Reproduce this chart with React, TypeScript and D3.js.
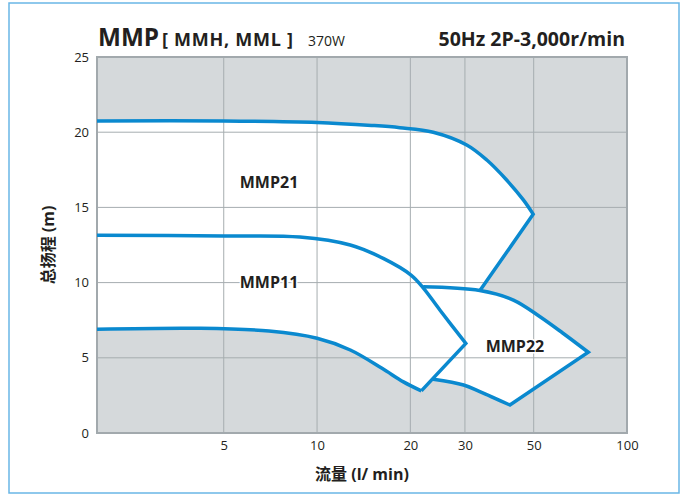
import React, { useEffect, useRef } from 'react';
import * as d3 from 'd3';

// axis ticks
const xTicks = [5, 10, 20, 30, 50, 100];
const yTicks = [0, 5, 10, 15, 20, 25];
const hGrid = [5, 10, 15, 20];
const vGrid = [5, 10, 20, 30, 50];

// MMP21: head curve + right edge
const mmp21Flow = [1.95, 5, 10, 15, 18.5, 23.7, 30.4, 35.3, 40.9, 46.3, 49.8];
const mmp21Head = [20.75, 20.75, 20.65, 20.45, 20.3, 20.0, 19.15, 18.15, 16.82, 15.5, 14.55];
const mmp21EdgeFlow = [49.8, 33.5];
const mmp21EdgeHead = [14.55, 9.45];

// MMP11: upper curve, right edge, lower curve
const mmp11Flow = [1.95, 5, 8.8, 12.8, 16.35, 20.1, 22, 24.9, 30.2];
const mmp11Head = [13.15, 13.1, 13.03, 12.5, 11.61, 10.5, 9.65, 8.18, 5.95];
const mmp11EdgeFlow = [30.2, 21.7];
const mmp11EdgeHead = [5.95, 2.8];
const mmp11LowFlow = [1.95, 4.2, 7, 10, 12.8, 16.2, 19, 21.7];
const mmp11LowHead = [6.9, 6.96, 6.78, 6.3, 5.52, 4.3, 3.4, 2.8];

// MMP22
const mmp22Flow = [22, 33.5, 43, 52.4, 62, 75];
const mmp22Head = [9.72, 9.47, 8.84, 7.73, 6.65, 5.37];
const mmp22EdgeFlow = [75, 41.9];
const mmp22EdgeHead = [5.37, 1.86];
const mmp22LowFlow = [23.7, 29.7, 33.5, 41.9];
const mmp22LowHead = [3.57, 3.19, 2.75, 1.86];

const regionNames = ['MMP21', 'MMP11', 'MMP22'];
const regionAt = [[7, 16.7], [7, 10.0], [43.5, 5.8]];

type Pt = [number, number];
const pts = (q: number[], h: number[]): Pt[] => q.map((v, i) => [v, h[i]]);

const FONT = "'Open Sans', 'Noto Sans CJK SC', sans-serif";
const BLUE = '#0a89cf';

const App: React.FC = () => {
  const svgRef = useRef<SVGSVGElement>(null);

  useEffect(() => {
    if (!svgRef.current) return;
    const svg = d3.select(svgRef.current);
    svg.selectAll('*').remove();

    const x = d3.scaleLog().domain([1.95, 100]).range([97, 627]);
    const y = d3.scaleLinear().domain([0, 25]).range([433, 57]);

    const line = d3.line<Pt>()
      .x(d => x(d[0]))
      .y(d => y(d[1]))
      .curve(d3.curveCatmullRom.alpha(0.5));

    const join = (parts: Pt[][], close = false) =>
      parts.map((p, i) => {
        const s = line(p) || '';
        return i === 0 ? s : 'L' + s.slice(1);
      }).join('') + (close ? 'Z' : '');

    const rev = (p: Pt[]) => p.slice().reverse();

    const p21 = pts(mmp21Flow, mmp21Head);
    const e21 = pts(mmp21EdgeFlow, mmp21EdgeHead);
    const p11 = pts(mmp11Flow, mmp11Head);
    const e11 = pts(mmp11EdgeFlow, mmp11EdgeHead);
    const l11 = pts(mmp11LowFlow, mmp11LowHead);
    const p22 = pts(mmp22Flow, mmp22Head);
    const e22 = pts(mmp22EdgeFlow, mmp22EdgeHead);
    const l22 = pts(mmp22LowFlow, mmp22LowHead);

    // outer frame
    svg.append('rect')
      .attr('x', 9).attr('y', 3).attr('width', 670).attr('height', 490)
      .attr('fill', 'white')
      .attr('stroke', '#69b6e6')
      .attr('stroke-width', 1.5);

    // plot background
    svg.append('rect')
      .attr('x', 97).attr('y', 57).attr('width', 530).attr('height', 376)
      .attr('fill', '#d5d9db');

    // white operating regions
    const regions = [
      join([p21, e21, rev(p11)], true),
      join([p11, e11, rev(l11)], true),
      join([p22, e22, rev(l22)], true),
    ];
    svg.selectAll('path.region')
      .data(regions)
      .enter()
      .append('path')
      .attr('class', 'region')
      .attr('d', d => d)
      .attr('fill', 'white');

    // grid
    svg.selectAll('line.hgrid')
      .data(hGrid)
      .enter()
      .append('line')
      .attr('x1', 97).attr('x2', 627)
      .attr('y1', d => y(d)).attr('y2', d => y(d))
      .attr('stroke', '#a6adb0')
      .attr('stroke-width', 1);

    svg.selectAll('line.vgrid')
      .data(vGrid)
      .enter()
      .append('line')
      .attr('y1', 57).attr('y2', 433)
      .attr('x1', d => x(d)).attr('x2', d => x(d))
      .attr('stroke', '#a6adb0')
      .attr('stroke-width', 1);

    // plot border
    svg.append('rect')
      .attr('x', 97).attr('y', 57).attr('width', 530).attr('height', 376)
      .attr('fill', 'none')
      .attr('stroke', '#a2a9ad')
      .attr('stroke-width', 2);

    // curves
    const curves = [
      join([p21, e21]),
      join([p11, e11]),
      line(l11) || '',
      join([p22, e22, rev(l22)]),
    ];
    svg.selectAll('path.curve')
      .data(curves)
      .enter()
      .append('path')
      .attr('class', 'curve')
      .attr('d', d => d)
      .attr('fill', 'none')
      .attr('stroke', BLUE)
      .attr('stroke-width', 3.5)
      .attr('stroke-linejoin', 'miter');

    // region labels
    svg.selectAll('text.region')
      .data(regionNames)
      .enter()
      .append('text')
      .attr('x', (d, i) => x(regionAt[i][0]))
      .attr('y', (d, i) => y(regionAt[i][1]))
      .attr('dy', '0.36em')
      .attr('text-anchor', 'middle')
      .attr('font-family', FONT)
      .attr('font-weight', 700)
      .attr('font-size', 16)
      .attr('fill', '#231f20')
      .attr('stroke', 'white')
      .attr('stroke-width', 3)
      .attr('paint-order', 'stroke')
      .text(d => d);

    // axes
    const xAxis = svg.append('g')
      .attr('transform', 'translate(0,433)')
      .call(d3.axisBottom(x).tickValues(xTicks).tickFormat(d3.format('d')).tickSize(0).tickPadding(8));
    xAxis.selectAll('text')
      .attr('fill', '#231f20')
      .style('font-size', '13px')
      .style('font-family', FONT);

    const yAxis = svg.append('g')
      .attr('transform', 'translate(97,0)')
      .call(d3.axisLeft(y).tickValues(yTicks).tickFormat(d3.format('d')).tickSize(0).tickPadding(8));
    yAxis.selectAll('text')
      .attr('fill', '#231f20')
      .style('font-size', '13px')
      .style('font-family', FONT);

    svg.selectAll('.domain').remove();

    // axis titles
    svg.append('text')
      .attr('x', 362).attr('y', 480)
      .attr('text-anchor', 'middle')
      .attr('font-family', FONT)
      .attr('font-weight', 700)
      .attr('font-size', 16)
      .attr('fill', '#231f20')
      .text('流量 (l/ min)');

    svg.append('text')
      .attr('transform', 'translate(54,245) rotate(-90)')
      .attr('text-anchor', 'middle')
      .attr('font-family', FONT)
      .attr('font-weight', 700)
      .attr('font-size', 16)
      .attr('fill', '#231f20')
      .text('总扬程 (m)');

    // title
    svg.append('text')
      .attr('x', 98).attr('y', 46)
      .attr('font-family', FONT)
      .attr('font-weight', 700).attr('font-size', 25)
      .attr('fill', '#231f20')
      .attr('textLength', 61)
      .attr('lengthAdjust', 'spacingAndGlyphs')
      .text('MMP');
    svg.append('text')
      .attr('x', 162).attr('y', 46)
      .attr('font-family', FONT)
      .attr('font-weight', 700).attr('font-size', 18)
      .attr('fill', '#231f20')
      .attr('textLength', 131)
      .attr('lengthAdjust', 'spacing')
      .text('[ MMH, MML ]');
    svg.append('text')
      .attr('x', 308).attr('y', 46)
      .attr('font-family', FONT)
      .attr('font-size', 14)
      .attr('fill', '#231f20')
      .text('370W');

    svg.append('text')
      .attr('x', 625).attr('y', 46)
      .attr('text-anchor', 'end')
      .attr('font-family', FONT)
      .attr('font-weight', 700)
      .attr('font-size', 19.5)
      .attr('fill', '#231f20')
      .text('50Hz 2P-3,000r/min');
  }, []);

  return (
    <svg ref={svgRef} width={686} height={495} style={{ position: 'absolute', left: 0, top: 0 }} />
  );
};

export default App;
